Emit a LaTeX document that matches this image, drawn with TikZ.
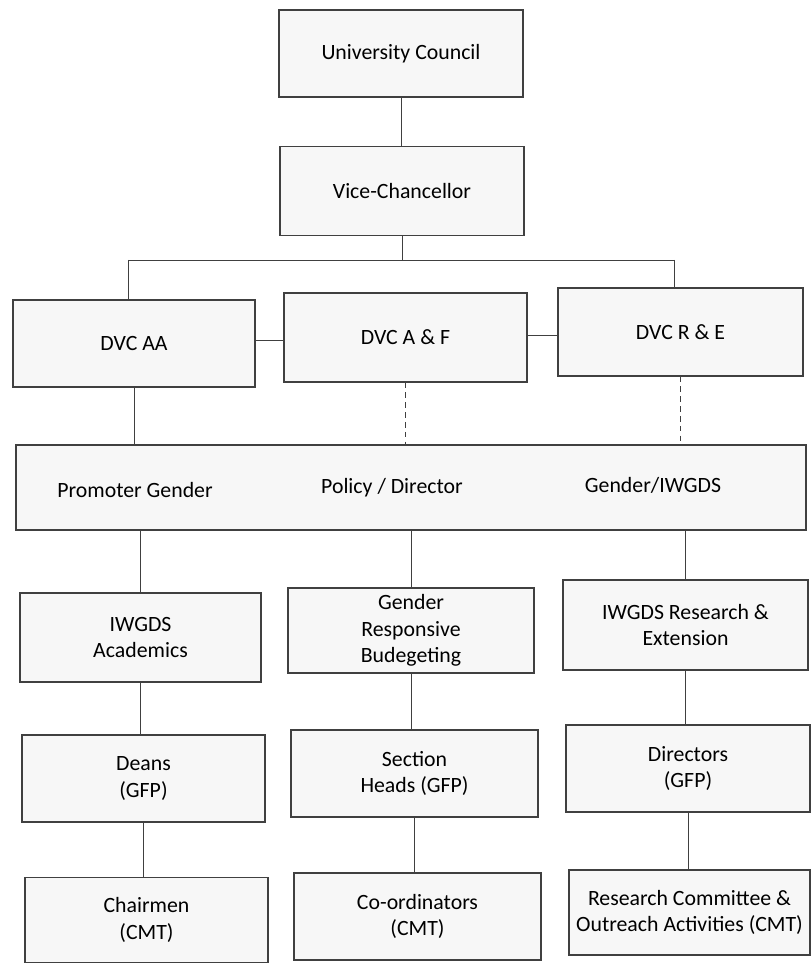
\documentclass[tikz,border=0pt]{standalone}
\usepackage{fontspec}
\setmainfont{Carlito}
\begin{document}
\begin{tikzpicture}[x=0.025cm,y=-0.025cm,
  box/.style={draw=black!75,line width=0.8pt,fill=black!3,inner sep=0pt,align=center,
    font=\fontsize{15.5}{19}\selectfont,text=black},
  lbl/.style={inner sep=0pt,font=\fontsize{15.5}{19}\selectfont,text=black},
  link/.style={draw=black!75,line width=0.6pt},
  dlink/.style={link,dashed,dash pattern=on 4pt off 3pt}]
\useasboundingbox (0,0) rectangle (811,964);
% top levels
\node[box,minimum width=244*0.025cm,minimum height=87*0.025cm] (uc) at (401,53.5) {University Council};
\node[box,minimum width=244*0.025cm,minimum height=89*0.025cm] (vc) at (402,191) {Vice-Chancellor};
\coordinate (bus) at (402,260);
\coordinate (busl) at (128,260);
\coordinate (busr) at (674,260);
% DVC row
\node[box,minimum width=242*0.025cm,minimum height=87*0.025cm] (aa) at (134,343.5) {DVC AA};
\node[box,minimum width=243*0.025cm,minimum height=89*0.025cm] (af) at (405.5,337.5) {DVC A \& F};
\node[box,minimum width=245*0.025cm,minimum height=88*0.025cm] (re) at (680.5,332) {DVC R \& E};
% big box
\node[box,minimum width=790*0.025cm,minimum height=85*0.025cm] (big) at (411,487.5) {};
\node[lbl] (pg) at (135,490) {Promoter Gender};
\node[lbl] (pd) at (392,488) {Policy / Director};
\node[lbl] (gi) at (653,485) {Gender/IWGDS};
% row 4
\node[box,minimum width=241*0.025cm,minimum height=89*0.025cm] (ia) at (140.5,637.5) {IWGDS\\Academics};
\node[box,minimum width=246*0.025cm,minimum height=85*0.025cm] (grb) at (411,630.5) {Gender\\Responsive\\Budegeting};
\node[box,minimum width=245*0.025cm,minimum height=90*0.025cm] (ire) at (685.5,625) {IWGDS Research \&\\Extension};
% row 5
\node[box,minimum width=243*0.025cm,minimum height=87*0.025cm] (dn) at (143.5,778.5) {Deans\\(GFP)};
\node[box,minimum width=247*0.025cm,minimum height=87*0.025cm] (sh) at (414.5,773.5) {Section\\Heads (GFP)};
\node[box,minimum width=244*0.025cm,minimum height=87*0.025cm] (dr) at (688,768.5) {Directors\\(GFP)};
% row 6
\node[box,minimum width=243*0.025cm,minimum height=85*0.025cm] (ch) at (146.5,920) {Chairmen\\(CMT)};
\node[box,minimum width=247*0.025cm,minimum height=87*0.025cm] (co) at (417.5,916.5) {Co-ordinators\\(CMT)};
\node[box,minimum width=241*0.025cm,minimum height=85*0.025cm] (rc) at (689.5,912.5) {Research Committee \&\\Outreach Activities (CMT)};
% connectors
\draw[link] (uc.south) -- (uc.south |- vc.north);
\draw[link] (vc.south) -- (bus);
\draw[link] (busl) -- (busr);
\draw[link] (busl) -- (busl |- aa.north);
\draw[link] (busr) -- (busr |- re.north);
\draw[link] (aa.east |- 0,340) -- (af.west |- 0,340);
\draw[link] (af.east |- 0,335) -- (re.west |- 0,335);
\draw[link] (aa.south) -- (aa.south |- big.north);
\draw[dlink] (af.south) -- (af.south |- big.north);
\draw[dlink] (re.south) -- (re.south |- big.north);
\draw[link] (ia.north |- big.south) -- (ia.north);
\draw[link] (grb.north |- big.south) -- (grb.north);
\draw[link] (ire.north |- big.south) -- (ire.north);
\draw[link] (ia.south) -- (ia.south |- dn.north);
\draw[link] (grb.south) -- (grb.south |- sh.north);
\draw[link] (ire.south) -- (ire.south |- dr.north);
\draw[link] (dn.south) -- (dn.south |- ch.north);
\draw[link] (sh.south) -- (sh.south |- co.north);
\draw[link] (dr.south) -- (dr.south |- rc.north);
\end{tikzpicture}
\end{document}
